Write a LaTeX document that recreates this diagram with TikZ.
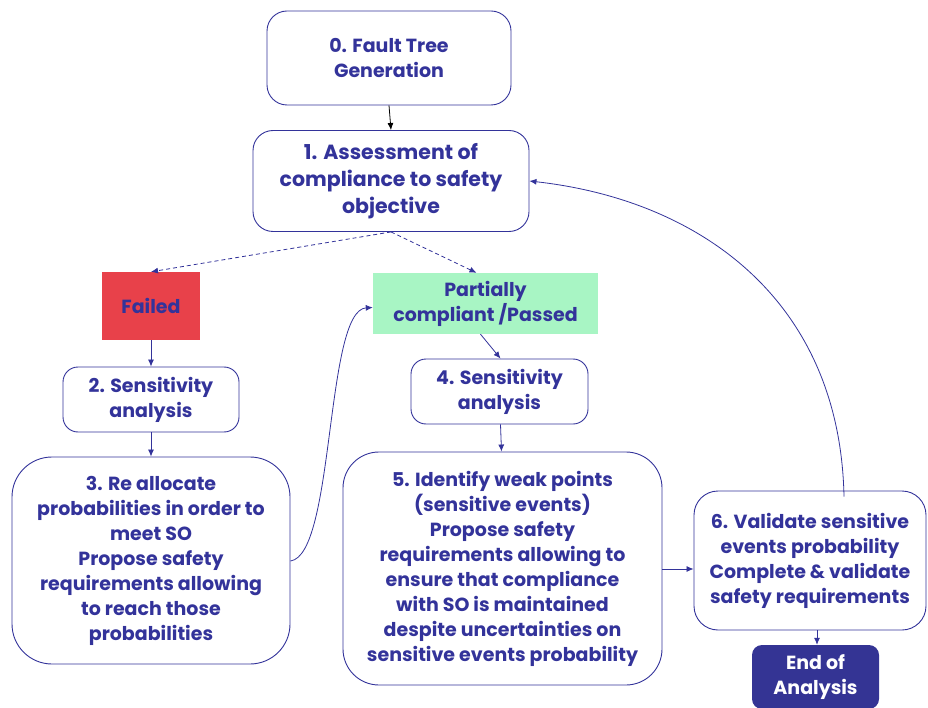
\documentclass[tikz,border=0pt]{standalone}
\usepackage{fontspec}
\setmainfont{Poppins}
\usetikzlibrary{arrows.meta}
\definecolor{ink}{HTML}{33339A}
\definecolor{failred}{HTML}{E8414A}
\definecolor{passgreen}{HTML}{A8F5C4}
\definecolor{endblue}{HTML}{343494}
\begin{document}
\begin{tikzpicture}[x=1pt,y=-1pt,
  txt/.style={font=\fontsize{19}{25}\selectfont\bfseries, text=ink, align=center, inner sep=0pt},
  rbox/.style={txt, draw=ink, line width=0.9pt, rounded corners=#1},
  rbox/.default=20pt,
  arr/.style={draw=ink, line width=0.8pt, -{Latex[length=7pt,width=6pt]}},
  darr/.style={arr, dash pattern=on 4pt off 3pt}]
\useasboundingbox (0,0) rectangle (928,708);
\node[rbox] (b0) at (389,58) [minimum width=244pt, minimum height=94pt] {0. Fault Tree\\Generation};
\node[rbox, font=\fontsize{20.5}{27}\selectfont\bfseries] (b1) at (391,181) [minimum width=276pt, minimum height=101pt] {1. Assessment of\\compliance to safety\\objective};
\node[txt, fill=failred, minimum width=98pt, minimum height=68pt] (fail) at (151,306) {Failed};
\node[txt, fill=passgreen, minimum width=225pt, minimum height=61pt] (pass) at (485.5,303.5) {Partially\\compliant /Passed};
\node[rbox=15pt] (b2) at (151,399.5) [minimum width=176pt, minimum height=65pt] {2. Sensitivity\\analysis};
\node[rbox=15pt] (b4) at (499.5,391.5) [minimum width=177pt, minimum height=65pt] {4. Sensitivity\\analysis};
\node[rbox=40pt] (b3) at (151,560.5) [minimum width=278pt, minimum height=207pt] {3. Re allocate\\probabilities in order to\\meet SO\\Propose safety\\requirements allowing\\to reach those\\probabilities};
\node[rbox=36pt] (b5) at (502.5,568.5) [minimum width=319pt, minimum height=233pt] {5. Identify weak points\\(sensitive events)\\Propose safety\\requirements allowing to\\ensure that compliance\\with SO is maintained\\despite uncertainties on\\sensitive events probability};
\node[rbox=24pt] (b6) at (810,560.5) [minimum width=232pt, minimum height=139pt] {6. Validate sensitive\\events probability\\Complete \& validate\\safety requirements};
\node[txt, text=white, fill=endblue, rounded corners=10pt, minimum width=127pt, minimum height=64pt] (end) at (815.5,677) {End of\\Analysis};
\draw[line width=0.8pt, -{Latex[length=7pt,width=6pt]}] (b0.south) -- (b1.north);
\draw[darr] (b1.south) -- (fail.north);
\draw[darr] (b1.south) -- ([xshift=-9pt]pass.north);
\draw[arr] (fail.south) -- (b2.north);
\draw[arr] (b2.south) -- (b3.north);
\draw[arr] ([xshift=-5pt]pass.south) -- ([xshift=1pt]b4.north);
\draw[arr] ([xshift=1pt]b4.south) -- ([xshift=-1pt]b5.north);
\draw[arr] (b5.east |- 0,569) -- (b6.west |- 0,569);
\draw[arr] ([xshift=7pt]b6.south) -- ([xshift=1.5pt]end.north);
\draw[arr] (b3.east |- 0,561) .. controls (335,555) and (325,310) .. ([yshift=-4pt]pass.west);
\draw[arr] ([xshift=34pt,yshift=-6pt]b6.north) .. controls (840,300) and (700,200) .. (b1.east);
\end{tikzpicture}
\end{document}
